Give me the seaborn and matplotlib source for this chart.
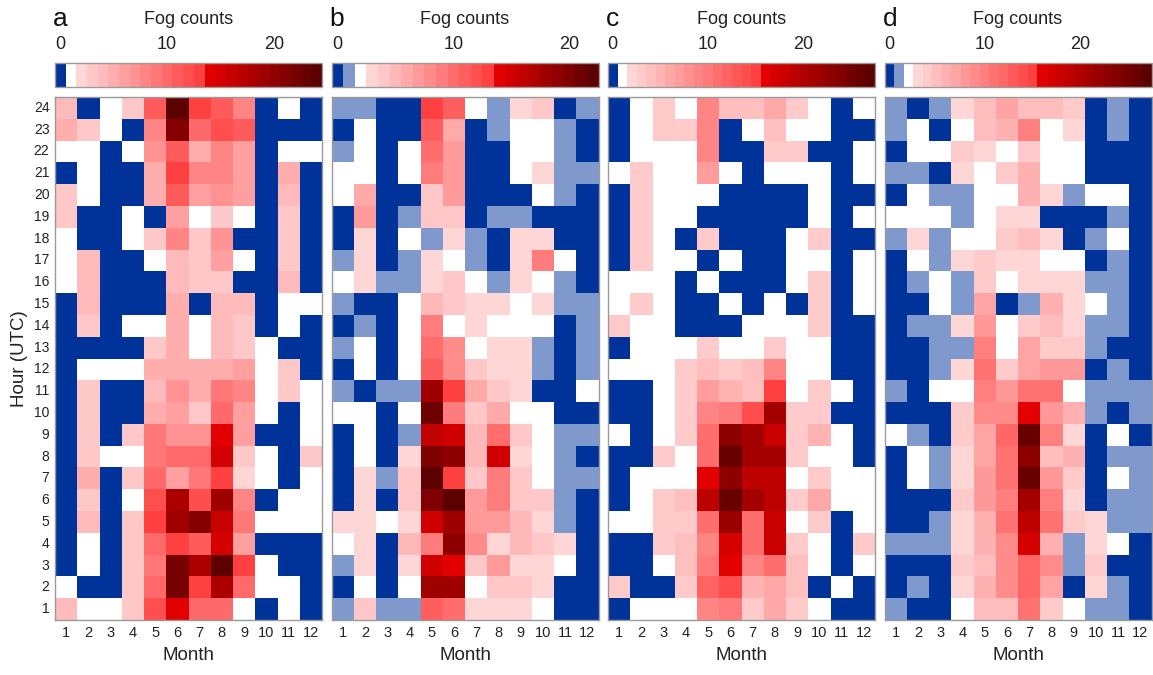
import numpy as np
import pandas as pd
import matplotlib
matplotlib.use("Agg")
import matplotlib.pyplot as plt
from matplotlib.colors import ListedColormap, BoundaryNorm
import seaborn as sns

sns.set_theme(style="white")
plt.rcParams['font.family'] = ['Liberation Sans', 'DejaVu Sans']

months = list(range(1, 13))
hours_top_down = list(range(24, 0, -1))
panel_letters = ["a", "b", "c", "d"]
panel_max = [24, 22, 27, 27]
panel_lightblue = [False, True, False, True]
panel_red_start = [14, 14, 16, 16]
cbar_ticks = [0, 10, 20]

# rows: hour 24 (top) down to hour 1 (bottom); columns: months 1..12
fog_a = [
    [4, 0, 1, 3, 11, 24, 13, 11, 8, 0, 1, 0],
    [5, 3, 1, 0, 8, 21, 10, 12, 11, 0, 0, 0],
    [1, 1, 0, 1, 7, 11, 5, 8, 6, 0, 1, 1],
    [0, 1, 0, 0, 5, 13, 8, 8, 6, 0, 5, 0],
    [3, 1, 0, 0, 5, 11, 6, 7, 6, 0, 4, 0],
    [3, 0, 0, 1, 0, 6, 1, 3, 1, 0, 3, 0],
    [1, 0, 0, 1, 3, 8, 3, 7, 0, 0, 3, 0],
    [1, 4, 0, 0, 1, 4, 3, 6, 1, 0, 3, 0],
    [1, 4, 0, 0, 0, 4, 3, 3, 0, 0, 4, 0],
    [0, 4, 0, 0, 0, 5, 0, 4, 4, 0, 1, 1],
    [0, 3, 0, 1, 1, 5, 1, 4, 3, 0, 1, 0],
    [0, 0, 0, 0, 3, 5, 1, 4, 3, 1, 0, 0],
    [0, 1, 1, 1, 5, 5, 5, 5, 6, 1, 3, 0],
    [0, 3, 0, 0, 4, 7, 5, 9, 8, 1, 3, 1],
    [0, 3, 0, 0, 5, 6, 3, 10, 6, 1, 0, 1],
    [0, 3, 0, 3, 9, 7, 7, 14, 6, 0, 0, 1],
    [0, 3, 1, 1, 9, 10, 10, 15, 3, 1, 0, 3],
    [0, 5, 0, 3, 10, 6, 9, 13, 2, 1, 0, 1],
    [0, 3, 0, 1, 12, 18, 12, 19, 8, 0, 1, 1],
    [0, 4, 0, 3, 13, 19, 21, 16, 9, 1, 1, 1],
    [0, 1, 0, 3, 10, 13, 11, 15, 6, 0, 0, 0],
    [0, 1, 0, 3, 9, 22, 18, 24, 13, 1, 0, 0],
    [1, 0, 0, 3, 10, 22, 13, 18, 10, 1, 1, 0],
    [4, 1, 1, 3, 12, 14, 10, 10, 1, 0, 1, 0],
]

fog_b = [
    [1, 1, 0, 0, 13, 11, 2, 1, 3, 4, 0, 1],
    [0, 2, 0, 0, 11, 6, 0, 1, 2, 2, 1, 0],
    [1, 2, 0, 2, 10, 7, 0, 0, 2, 2, 1, 0],
    [2, 2, 0, 2, 9, 7, 0, 0, 2, 3, 1, 1],
    [2, 6, 0, 0, 4, 7, 0, 0, 0, 2, 1, 0],
    [0, 7, 0, 1, 4, 4, 0, 1, 1, 0, 0, 0],
    [0, 3, 0, 2, 1, 3, 1, 0, 3, 3, 0, 0],
    [1, 3, 0, 1, 3, 2, 1, 0, 3, 9, 2, 0],
    [2, 3, 1, 1, 3, 4, 2, 1, 3, 2, 1, 0],
    [1, 0, 0, 2, 5, 4, 3, 3, 2, 3, 1, 1],
    [0, 1, 0, 2, 9, 2, 3, 2, 2, 2, 0, 1],
    [1, 2, 0, 2, 10, 8, 2, 3, 3, 1, 0, 1],
    [0, 2, 0, 2, 11, 8, 4, 3, 3, 1, 0, 1],
    [1, 0, 1, 1, 18, 13, 6, 4, 3, 0, 0, 2],
    [2, 2, 0, 2, 21, 9, 4, 6, 2, 2, 0, 0],
    [0, 2, 0, 1, 16, 15, 5, 10, 4, 2, 1, 1],
    [0, 2, 0, 3, 20, 19, 5, 15, 3, 2, 1, 0],
    [0, 3, 1, 4, 22, 13, 4, 9, 4, 2, 1, 1],
    [0, 3, 0, 4, 20, 22, 7, 9, 4, 4, 1, 0],
    [3, 3, 2, 3, 15, 18, 7, 7, 5, 3, 1, 0],
    [2, 3, 0, 5, 9, 19, 8, 3, 5, 4, 3, 0],
    [1, 3, 0, 3, 15, 14, 4, 7, 3, 3, 2, 0],
    [0, 2, 0, 2, 18, 18, 2, 4, 4, 3, 0, 0],
    [1, 4, 1, 1, 11, 10, 3, 3, 3, 2, 0, 0],
]

fog_c = [
    [0, 1, 3, 1, 9, 4, 4, 6, 3, 1, 0, 1],
    [0, 1, 3, 3, 9, 0, 1, 4, 1, 1, 0, 0],
    [0, 1, 1, 1, 9, 0, 0, 3, 3, 0, 0, 1],
    [1, 3, 1, 1, 7, 1, 0, 1, 1, 1, 0, 1],
    [0, 3, 1, 1, 1, 0, 0, 0, 0, 1, 0, 0],
    [0, 3, 1, 1, 0, 0, 0, 0, 0, 1, 0, 1],
    [0, 3, 1, 0, 3, 0, 0, 0, 1, 3, 0, 0],
    [0, 3, 1, 1, 0, 1, 0, 0, 1, 1, 0, 1],
    [1, 1, 1, 0, 1, 0, 0, 0, 1, 3, 0, 1],
    [1, 3, 1, 0, 0, 1, 0, 1, 0, 3, 0, 1],
    [3, 1, 1, 0, 0, 0, 1, 1, 1, 3, 0, 0],
    [0, 1, 1, 1, 3, 1, 1, 3, 1, 1, 0, 0],
    [1, 1, 1, 3, 4, 3, 4, 9, 1, 1, 0, 0],
    [0, 0, 1, 3, 7, 5, 4, 15, 1, 3, 1, 0],
    [0, 0, 1, 3, 9, 10, 14, 21, 3, 3, 0, 0],
    [1, 0, 1, 3, 11, 23, 21, 18, 3, 5, 1, 0],
    [0, 0, 3, 1, 11, 26, 21, 21, 3, 1, 1, 0],
    [0, 1, 1, 1, 16, 23, 19, 19, 1, 3, 1, 1],
    [0, 1, 3, 4, 19, 26, 21, 19, 3, 6, 1, 1],
    [1, 1, 3, 3, 11, 22, 11, 18, 1, 3, 0, 1],
    [0, 0, 3, 4, 9, 17, 11, 18, 3, 1, 0, 3],
    [0, 0, 1, 4, 10, 16, 9, 11, 4, 1, 0, 1],
    [3, 0, 0, 3, 12, 14, 5, 6, 4, 0, 1, 0],
    [0, 1, 1, 1, 9, 10, 3, 6, 3, 1, 0, 0],
]

fog_d = [
    [1, 0, 1, 3, 5, 7, 5, 5, 4, 0, 1, 0],
    [1, 2, 0, 2, 5, 6, 10, 2, 3, 0, 1, 0],
    [0, 2, 2, 4, 3, 2, 4, 2, 2, 0, 0, 0],
    [1, 1, 0, 3, 2, 4, 6, 2, 2, 0, 0, 0],
    [0, 2, 1, 1, 2, 2, 6, 3, 1, 2, 2, 0],
    [2, 2, 2, 1, 2, 3, 3, 0, 0, 0, 1, 0],
    [1, 3, 1, 2, 2, 4, 5, 3, 0, 1, 2, 0],
    [0, 2, 1, 3, 4, 3, 3, 2, 2, 0, 1, 0],
    [0, 1, 2, 1, 4, 2, 3, 3, 3, 1, 1, 0],
    [0, 0, 2, 1, 7, 0, 1, 6, 3, 2, 1, 0],
    [0, 1, 1, 3, 8, 2, 4, 5, 3, 1, 1, 0],
    [0, 0, 1, 1, 10, 2, 7, 4, 4, 1, 0, 0],
    [0, 0, 1, 3, 11, 4, 7, 8, 8, 0, 1, 0],
    [1, 0, 2, 2, 10, 8, 11, 11, 2, 1, 1, 1],
    [0, 0, 0, 4, 9, 9, 16, 8, 6, 1, 0, 1],
    [2, 1, 0, 4, 7, 12, 26, 10, 3, 0, 2, 0],
    [0, 2, 1, 3, 7, 11, 23, 5, 6, 0, 1, 1],
    [0, 2, 1, 3, 8, 11, 26, 8, 4, 0, 2, 1],
    [0, 0, 0, 4, 8, 10, 21, 10, 3, 0, 1, 1],
    [0, 0, 1, 3, 6, 11, 19, 11, 4, 3, 1, 1],
    [1, 1, 1, 3, 6, 9, 17, 6, 1, 3, 2, 0],
    [0, 0, 0, 4, 5, 9, 12, 9, 1, 4, 0, 0],
    [0, 1, 0, 3, 6, 9, 12, 7, 0, 3, 1, 0],
    [1, 0, 0, 2, 5, 5, 11, 4, 2, 1, 1, 0],
]

panels = [fog_a, fog_b, fog_c, fog_d]


def make_cmap(vmax, has_lightblue, red_start):
    cols = [(0 / 255, 51 / 255, 153 / 255)]
    if has_lightblue:
        cols.append((128 / 255, 153 / 255, 204 / 255))
    cols.append((1.0, 1.0, 1.0))
    pink_start = len(cols)
    n_pink = red_start - pink_start
    for i in range(n_pink):
        t = i / max(n_pink - 1, 1)
        g = (214 + (64 - 214) * t) / 255
        cols.append((1.0, g, g))
    n_red = vmax - red_start + 1
    for i in range(n_red):
        t = i / max(n_red - 1, 1)
        r = (226 + (92 - 226) * t) / 255
        cols.append((r, 0.0, 0.0))
    cmap = ListedColormap(cols)
    norm = BoundaryNorm(np.arange(-0.5, vmax + 1.0, 1.0), cmap.N)
    return cmap, norm


W, H = 1153, 675
fig = plt.figure(figsize=(W / 100, H / 100), dpi=100)


def rect(x0, y0, x1, y1):
    return [x0 / W, 1 - y1 / H, (x1 - x0) / W, (y1 - y0) / H]


lefts = [55, 331.5, 608, 884.5]
pw = 267
edge = "#9a9a9a"
txt = "#222222"

for k in range(4):
    x0 = lefts[k]
    ax = fig.add_axes(rect(x0, 97, x0 + pw, 620))
    cax = fig.add_axes(rect(x0, 63, x0 + pw, 87))
    cmap, norm = make_cmap(panel_max[k], panel_lightblue[k], panel_red_start[k])
    df = pd.DataFrame(panels[k], index=hours_top_down, columns=months)
    sns.heatmap(df, cmap=cmap, norm=norm, cbar=False, ax=ax, linewidths=0)
    ax.set_xticks(np.arange(12) + 0.5)
    ax.set_xticklabels([str(m) for m in months], rotation=0, fontsize=10.5, color=txt)
    ax.set_yticks(np.arange(24) + 0.5)
    if k == 0:
        ax.set_yticklabels([str(h) for h in hours_top_down], rotation=0, fontsize=10, color=txt)
        ax.set_ylabel("Hour (UTC)", fontsize=13.5, color=txt, labelpad=4)
    else:
        ax.set_yticklabels([])
        ax.set_ylabel("")
    ax.set_xlabel("Month", fontsize=13.5, color=txt, labelpad=5)
    ax.tick_params(axis="both", which="both", direction="in", length=3, width=0.8,
                   color="#555555", top=True, right=True, bottom=True, left=True, pad=4)
    for s in ax.spines.values():
        s.set_visible(True)
        s.set_color(edge)
        s.set_linewidth(1.0)

    # colorbar
    sm = matplotlib.cm.ScalarMappable(cmap=cmap, norm=norm)
    cb = fig.colorbar(sm, cax=cax, orientation="horizontal",
                      boundaries=np.arange(-0.5, panel_max[k] + 1.0, 1.0),
                      ticks=cbar_ticks)
    cb.minorticks_off()
    cb.outline.set_edgecolor(edge)
    cb.outline.set_linewidth(1.0)
    cax.xaxis.set_ticks_position("top")
    cax.xaxis.set_label_position("top")
    cax.tick_params(axis="x", which="minor", length=0)
    cax.tick_params(axis="x", which="major", direction="in", length=2, width=0.6,
                    color="#555555", labelsize=13, labelcolor=txt, pad=7)
    cax.set_xticklabels([str(t) for t in cbar_ticks])

    fig.text((x0 + pw / 2) / W, 1 - 20 / H, "Fog counts", ha="center", va="center",
             fontsize=13, color=txt)
    fig.text((x0 - 2) / W, 1 - 19 / H, panel_letters[k], ha="left", va="center",
             fontsize=19, color="#111111")

fig.savefig("out.png", dpi=100)
